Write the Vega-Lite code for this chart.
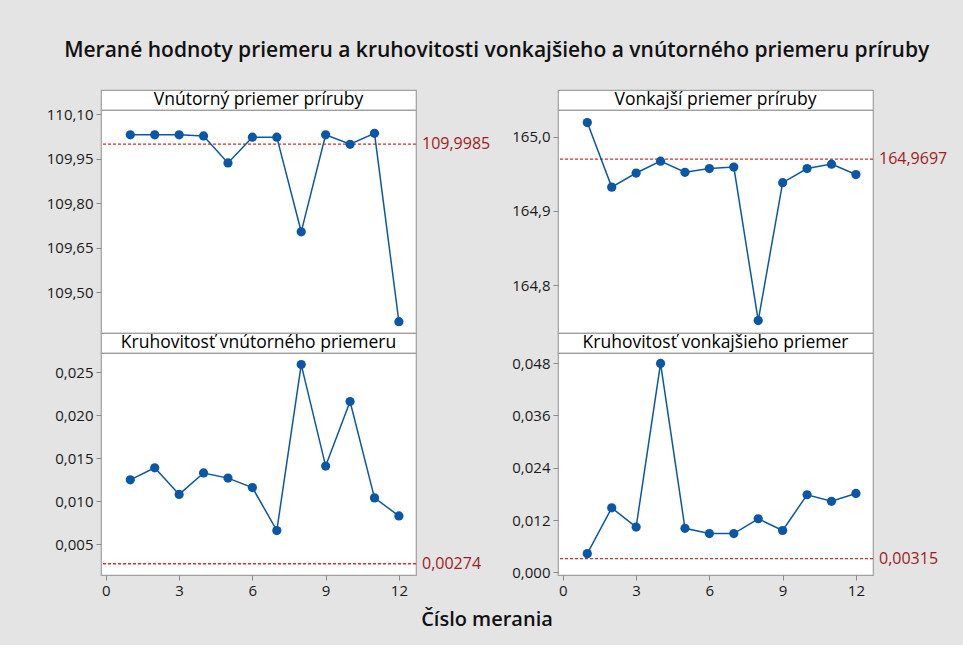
{
  "$schema": "https://vega.github.io/schema/vega-lite/v6.json",
  "background": "#e4e4e4",
  "padding": {"left": 45, "top": 40, "right": 20, "bottom": 12},
  "config": {
    "locale": {"number": {"decimal": ",", "thousands": "\u00a0", "grouping": [3], "currency": ["", " €"]}},
    "font": "Open Sans",
    "view": {"fill": "white", "stroke": "#a0a0a0", "strokeWidth": 1.2},
    "axis": {"domain": false, "grid": false, "labelFont": "Open Sans", "labelFontSize": 15, "labelColor": "#1a1a1a", "tickColor": "#8a8a8a", "tickSize": 5, "title": null, "labelPadding": 3},
    "title": {"font": "Open Sans", "color": "#111111"}
  },
  "title": {"text": "Merané hodnoty priemeru a kruhovitosti vonkajšieho a vnútorného priemeru príruby", "fontSize": 21, "fontWeight": 600, "anchor": "middle", "offset": 28},
  "datasets": {
    "p1": [{"n":1,"v":110.030},{"n":2,"v":110.030},{"n":3,"v":110.030},{"n":4,"v":110.026},{"n":5,"v":109.935},{"n":6,"v":110.022},{"n":7,"v":110.022},{"n":8,"v":109.703},{"n":9,"v":110.030},{"n":10,"v":109.998},{"n":11,"v":110.035},{"n":12,"v":109.400}],
    "p2": [{"n":1,"v":165.019},{"n":2,"v":164.932},{"n":3,"v":164.951},{"n":4,"v":164.967},{"n":5,"v":164.952},{"n":6,"v":164.957},{"n":7,"v":164.959},{"n":8,"v":164.752},{"n":9,"v":164.938},{"n":10,"v":164.957},{"n":11,"v":164.963},{"n":12,"v":164.949}],
    "p3": [{"n":1,"v":0.0125},{"n":2,"v":0.0139},{"n":3,"v":0.0108},{"n":4,"v":0.0133},{"n":5,"v":0.0127},{"n":6,"v":0.0116},{"n":7,"v":0.0066},{"n":8,"v":0.0259},{"n":9,"v":0.0141},{"n":10,"v":0.0216},{"n":11,"v":0.0104},{"n":12,"v":0.0083}],
    "p4": [{"n":1,"v":0.0043},{"n":2,"v":0.0148},{"n":3,"v":0.0104},{"n":4,"v":0.0479},{"n":5,"v":0.0101},{"n":6,"v":0.0089},{"n":7,"v":0.0089},{"n":8,"v":0.0123},{"n":9,"v":0.0096},{"n":10,"v":0.0178},{"n":11,"v":0.0163},{"n":12,"v":0.0181}]
  },
  "vconcat": [
    {
      "columns": 2,
      "spacing": {"row": 0, "column": 142},
      "bounds": "flush",
      "concat": [
        {"width": 315, "height": 20, "view": {"fill": "white", "stroke": "#a0a0a0", "strokeWidth": 1.2}, "data": {"values": [{"t": "Vnútorný priemer príruby"}]}, "mark": {"type": "text", "fontSize": 17.5, "color": "#000000"}, "encoding": {"text": {"field": "t"}}},
        {"width": 315, "height": 20, "view": {"fill": "white", "stroke": "#a0a0a0", "strokeWidth": 1.2}, "data": {"values": [{"t": "Vonkajší priemer príruby"}]}, "mark": {"type": "text", "fontSize": 17.5, "color": "#000000"}, "encoding": {"text": {"field": "t"}}},
        {
          "width": 315, "height": 223,
          "layer": [
            {"data": {"values": [{"r": 109.9985, "lab": "109,9985"}]}, "mark": {"type": "rule", "color": "#e02a2a", "strokeDash": [3, 2], "strokeWidth": 1.3}, "encoding": {"y": {"field": "r", "type": "quantitative", "scale": {"domain": [109.362, 110.1135], "nice": false, "zero": false}}}},
            {"data": {"values": [{"r": 109.9985, "lab": "109,9985"}]}, "mark": {"type": "text", "align": "left", "dx": 6, "fontSize": 16, "color": "#a01c1c"}, "encoding": {"x": {"datum": 12.7, "type": "quantitative"}, "y": {"field": "r", "type": "quantitative"}, "text": {"field": "lab"}}},
            {"data": {"name": "p1"}, "mark": {"type": "line", "color": "#0a57a8", "strokeWidth": 1.5}, "encoding": {"x": {"field": "n", "type": "quantitative"}, "y": {"field": "v", "type": "quantitative"}}},
            {"data": {"name": "p1"}, "mark": {"type": "point", "filled": true, "size": 85, "opacity": 1, "color": "#0a57a8"}, "encoding": {"x": {"field": "n", "type": "quantitative", "scale": {"domain": [-0.2, 12.7], "nice": false}, "axis": null}, "y": {"field": "v", "type": "quantitative", "axis": {"values": [109.5, 109.65, 109.8, 109.95, 110.1], "format": ".2f"}}}}
          ]
        },
        {
          "width": 315, "height": 223,
          "layer": [
            {"data": {"values": [{"r": 164.9697, "lab": "164,9697"}]}, "mark": {"type": "rule", "color": "#e02a2a", "strokeDash": [3, 2], "strokeWidth": 1.3}, "encoding": {"y": {"field": "r", "type": "quantitative", "scale": {"domain": [164.7353, 165.036], "nice": false, "zero": false}}}},
            {"data": {"values": [{"r": 164.9697, "lab": "164,9697"}]}, "mark": {"type": "text", "align": "left", "dx": 6, "fontSize": 16, "color": "#a01c1c"}, "encoding": {"x": {"datum": 12.7, "type": "quantitative"}, "y": {"field": "r", "type": "quantitative"}, "text": {"field": "lab"}}},
            {"data": {"name": "p2"}, "mark": {"type": "line", "color": "#0a57a8", "strokeWidth": 1.5}, "encoding": {"x": {"field": "n", "type": "quantitative"}, "y": {"field": "v", "type": "quantitative"}}},
            {"data": {"name": "p2"}, "mark": {"type": "point", "filled": true, "size": 85, "opacity": 1, "color": "#0a57a8"}, "encoding": {"x": {"field": "n", "type": "quantitative", "scale": {"domain": [-0.2, 12.7], "nice": false}, "axis": null}, "y": {"field": "v", "type": "quantitative", "axis": {"values": [164.8, 164.9, 165.0], "format": ".1f"}}}}
          ]
        },
        {"width": 315, "height": 20, "view": {"fill": "white", "stroke": "#a0a0a0", "strokeWidth": 1.2}, "data": {"values": [{"t": "Kruhovitosť vnútorného priemeru"}]}, "mark": {"type": "text", "fontSize": 17.5, "color": "#000000"}, "encoding": {"text": {"field": "t"}}},
        {"width": 315, "height": 20, "view": {"fill": "white", "stroke": "#a0a0a0", "strokeWidth": 1.2}, "data": {"values": [{"t": "Kruhovitosť vonkajšieho priemer"}]}, "mark": {"type": "text", "fontSize": 17.5, "color": "#000000"}, "encoding": {"text": {"field": "t"}}},
        {
          "width": 315, "height": 222,
          "layer": [
            {"data": {"values": [{"r": 0.00274, "lab": "0,00274"}]}, "mark": {"type": "rule", "color": "#e02a2a", "strokeDash": [3, 2], "strokeWidth": 1.3}, "encoding": {"y": {"field": "r", "type": "quantitative", "scale": {"domain": [0.00143, 0.02725], "nice": false, "zero": false}}}},
            {"data": {"values": [{"r": 0.00274, "lab": "0,00274"}]}, "mark": {"type": "text", "align": "left", "dx": 6, "fontSize": 16, "color": "#a01c1c"}, "encoding": {"x": {"datum": 12.7, "type": "quantitative"}, "y": {"field": "r", "type": "quantitative"}, "text": {"field": "lab"}}},
            {"data": {"name": "p3"}, "mark": {"type": "line", "color": "#0a57a8", "strokeWidth": 1.5}, "encoding": {"x": {"field": "n", "type": "quantitative"}, "y": {"field": "v", "type": "quantitative"}}},
            {"data": {"name": "p3"}, "mark": {"type": "point", "filled": true, "size": 85, "opacity": 1, "color": "#0a57a8"}, "encoding": {"x": {"field": "n", "type": "quantitative", "scale": {"domain": [-0.2, 12.7], "nice": false}, "axis": {"values": [0, 3, 6, 9, 12], "format": "d"}}, "y": {"field": "v", "type": "quantitative", "axis": {"values": [0.005, 0.01, 0.015, 0.02, 0.025], "format": ".3f"}}}}
          ]
        },
        {
          "width": 315, "height": 222,
          "layer": [
            {"data": {"values": [{"r": 0.00315, "lab": "0,00315"}]}, "mark": {"type": "rule", "color": "#e02a2a", "strokeDash": [3, 2], "strokeWidth": 1.3}, "encoding": {"y": {"field": "r", "type": "quantitative", "scale": {"domain": [-0.0006, 0.0503], "nice": false, "zero": false}}}},
            {"data": {"values": [{"r": 0.00315, "lab": "0,00315"}]}, "mark": {"type": "text", "align": "left", "dx": 6, "fontSize": 16, "color": "#a01c1c"}, "encoding": {"x": {"datum": 12.7, "type": "quantitative"}, "y": {"field": "r", "type": "quantitative"}, "text": {"field": "lab"}}},
            {"data": {"name": "p4"}, "mark": {"type": "line", "color": "#0a57a8", "strokeWidth": 1.5}, "encoding": {"x": {"field": "n", "type": "quantitative"}, "y": {"field": "v", "type": "quantitative"}}},
            {"data": {"name": "p4"}, "mark": {"type": "point", "filled": true, "size": 85, "opacity": 1, "color": "#0a57a8"}, "encoding": {"x": {"field": "n", "type": "quantitative", "scale": {"domain": [-0.2, 12.7], "nice": false}, "axis": {"values": [0, 3, 6, 9, 12], "format": "d"}}, "y": {"field": "v", "type": "quantitative", "axis": {"values": [0, 0.012, 0.024, 0.036, 0.048], "format": ".3f"}}}}
          ]
        }
      ]
    },
    {
      "width": 772, "height": 26,
      "view": {"fill": null, "stroke": null},
      "data": {"values": [{"t": "Číslo merania"}]},
      "mark": {"type": "text", "fontSize": 20, "fontWeight": 600, "color": "#111111"},
      "encoding": {"text": {"field": "t"}}
    }
  ],
  "spacing": 8
}
